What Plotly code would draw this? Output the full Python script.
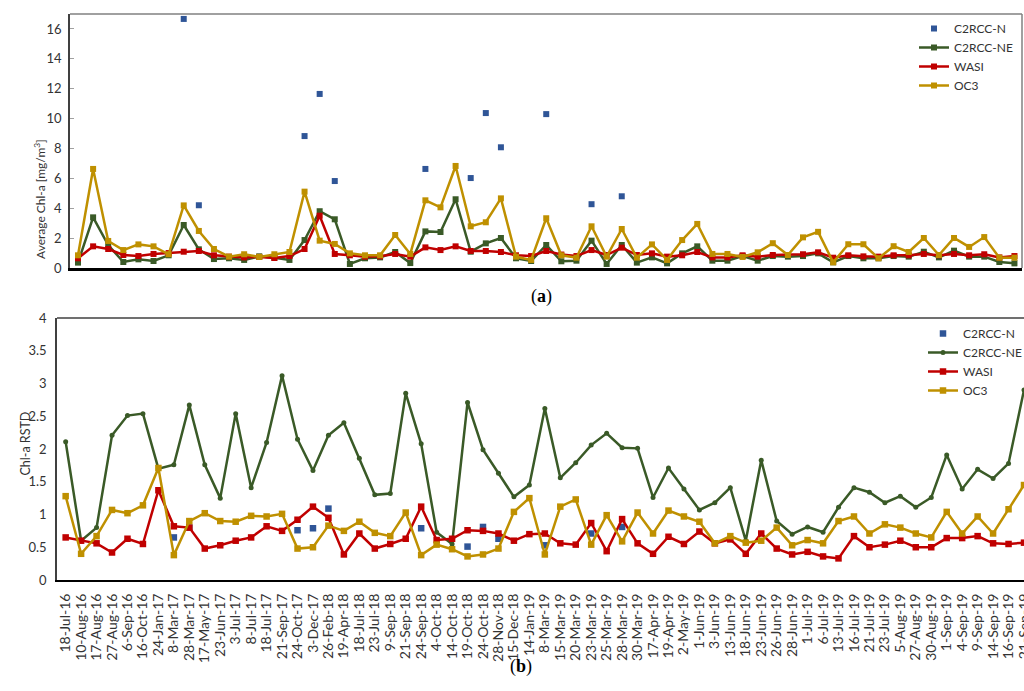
import plotly.graph_objects as go

# Acquisition dates shared by both panels
dates = [
    "18-Jul-16", "10-Aug-16", "17-Aug-16", "27-Aug-16", "6-Sep-16", "16-Oct-16",
    "24-Jan-17", "8-Mar-17", "28-Mar-17", "17-May-17", "23-Jun-17", "3-Jul-17",
    "8-Jul-17", "18-Jul-17", "21-Sep-17", "24-Oct-17", "3-Dec-17", "26-Feb-18",
    "19-Apr-18", "18-Jul-18", "23-Jul-18", "9-Sep-18", "21-Sep-18", "24-Sep-18",
    "4-Oct-18", "14-Oct-18", "19-Oct-18", "24-Oct-18", "28-Nov-18", "15-Dec-18",
    "14-Jan-19", "8-Mar-19", "15-Mar-19", "20-Mar-19", "23-Mar-19", "25-Mar-19",
    "28-Mar-19", "30-Mar-19", "17-Apr-19", "19-Apr-19", "2-May-19", "1-Jun-19",
    "3-Jun-19", "13-Jun-19", "18-Jun-19", "23-Jun-19", "26-Jun-19", "28-Jun-19",
    "1-Jul-19", "6-Jul-19", "13-Jul-19", "16-Jul-19", "21-Jul-19", "23-Jul-19",
    "5-Aug-19", "27-Aug-19", "30-Aug-19", "1-Sep-19", "4-Sep-19", "9-Sep-19",
    "14-Sep-19", "16-Sep-19", "21-Sep-19",
]

_ = None

# (a) Average Chl-a [mg/m3]
avg_c2rcc_n = [
    _, _, _, _, _, _, _, 16.67, 4.2, _,
    _, _, _, _, _, 8.83, 11.65, 5.82, _, _,
    _, _, _, 6.63, _, _, 6.02, 10.37, 8.08, _,
    _, 10.3, _, _, 4.27, _, 4.8, _, _, _,
    _, _, _, _, _, _, _, _, _, _,
    _, _, _, _, _, _, _, _, _, _,
    _, _, _,
]
avg_c2rcc_ne = [
    0.36, 3.39, 1.54, 0.40, 0.58, 0.47, 0.85, 2.88, 1.25, 0.60,
    0.65, 0.54, 0.78, 0.69, 0.54, 1.87, 3.80, 3.26, 0.27, 0.65,
    0.71, 1.07, 0.33, 2.45, 2.41, 4.60, 1.09, 1.65, 2.01, 0.65,
    0.47, 1.54, 0.45, 0.49, 1.83, 0.27, 1.54, 0.36, 0.71, 0.31,
    0.98, 1.45, 0.49, 0.49, 0.80, 0.49, 0.80, 0.76, 0.80, 0.98,
    0.38, 0.80, 0.65, 0.65, 0.80, 0.76, 1.09, 0.71, 1.16, 0.76,
    0.76, 0.40, 0.31,
]
avg_wasi = [
    0.65, 1.45, 1.27, 0.87, 0.80, 0.94, 1.00, 1.09, 1.14, 0.85,
    0.76, 0.71, 0.74, 0.67, 0.80, 1.27, 3.50, 0.94, 0.85, 0.76,
    0.78, 0.94, 0.76, 1.38, 1.20, 1.45, 1.14, 1.14, 1.07, 0.85,
    0.80, 1.14, 0.90, 0.80, 1.20, 0.87, 1.36, 0.87, 0.98, 0.76,
    0.85, 1.07, 0.71, 0.71, 0.85, 0.76, 0.87, 0.87, 0.92, 1.05,
    0.69, 0.85, 0.78, 0.76, 0.85, 0.85, 0.94, 0.85, 0.94, 0.85,
    0.92, 0.71, 0.80,
]
avg_oc3 = [
    0.85, 6.63, 1.81, 1.20, 1.58, 1.45, 0.92, 4.19, 2.48, 1.27,
    0.76, 0.92, 0.74, 0.92, 1.07, 5.11, 1.83, 1.61, 0.98, 0.85,
    0.85, 2.21, 0.94, 4.53, 4.06, 6.83, 2.79, 3.06, 4.66, 0.76,
    0.54, 3.33, 0.85, 0.69, 2.79, 0.76, 2.61, 0.69, 1.58, 0.54,
    1.87, 2.95, 0.94, 0.94, 0.74, 1.05, 1.66, 0.87, 2.05, 2.42,
    0.38, 1.59, 1.59, 0.65, 1.46, 1.07, 2.01, 0.87, 2.01, 1.41,
    2.07, 0.69, 0.69,
]

# (b) Chl-a relative standard deviation
rstd_c2rcc_n = [
    _, _, _, _, _, _, _, 0.65, 0.80, _,
    _, _, _, _, _, 0.76, 0.79, 1.09, _, _,
    _, _, _, 0.79, _, _, 0.51, 0.81, 0.63, _,
    _, 0.53, _, _, 0.71, _, 0.81, _, _, _,
    _, _, _, _, _, _, _, _, _, _,
    _, _, _, _, _, _, _, _, _, _,
    _, _, _,
]
rstd_c2rcc_ne = [
    2.11, 0.60, 0.80, 2.21, 2.51, 2.54, 1.70, 1.76, 2.67, 1.76,
    1.25, 2.54, 1.41, 2.10, 3.12, 2.15, 1.67, 2.21, 2.40, 1.86,
    1.30, 1.32, 2.85, 2.08, 0.73, 0.55, 2.71, 1.99, 1.63, 1.27,
    1.45, 2.62, 1.56, 1.79, 2.06, 2.24, 2.02, 2.01, 1.26, 1.71,
    1.39, 1.07, 1.18, 1.41, 0.60, 1.83, 0.90, 0.70, 0.81, 0.73,
    1.11, 1.41, 1.34, 1.18, 1.28, 1.11, 1.26, 1.91, 1.39, 1.69,
    1.55, 1.78, 2.90,
]
rstd_wasi = [
    0.65, 0.60, 0.56, 0.42, 0.63, 0.55, 1.37, 0.82, 0.80, 0.48,
    0.53, 0.60, 0.65, 0.82, 0.75, 0.92, 1.12, 0.95, 0.39, 0.71,
    0.48, 0.55, 0.63, 1.12, 0.61, 0.63, 0.76, 0.75, 0.71, 0.60,
    0.70, 0.71, 0.56, 0.54, 0.87, 0.44, 0.93, 0.56, 0.40, 0.66,
    0.55, 0.74, 0.56, 0.62, 0.40, 0.71, 0.48, 0.39, 0.43, 0.36,
    0.33, 0.67, 0.50, 0.54, 0.60, 0.50, 0.50, 0.64, 0.64, 0.67,
    0.56, 0.55, 0.57,
]
rstd_oc3 = [
    1.28, 0.40, 0.67, 1.07, 1.02, 1.14, 1.71, 0.38, 0.90, 1.02,
    0.90, 0.89, 0.98, 0.97, 1.01, 0.48, 0.50, 0.83, 0.75, 0.89,
    0.72, 0.67, 1.03, 0.38, 0.54, 0.47, 0.36, 0.39, 0.48, 1.04,
    1.25, 0.39, 1.12, 1.23, 0.54, 0.99, 0.59, 1.03, 0.71, 1.06,
    0.97, 0.89, 0.56, 0.67, 0.57, 0.60, 0.80, 0.53, 0.61, 0.56,
    0.90, 0.97, 0.71, 0.85, 0.80, 0.71, 0.65, 1.04, 0.71, 0.97,
    0.71, 1.08, 1.45,
]

BLUE = "#2F5597"
GREEN = "#3A5A27"
RED = "#C00000"
GOLD = "#BF9000"
TXT = "#333333"
FONT = "Lato"

W, H = 1024, 691


def px(x):
    return x / W


def py(y):
    return 1 - y / H


fig = go.Figure()

# ---- panel (a) ----
fig.add_trace(go.Scatter(
    x=dates, y=avg_c2rcc_n, name="C2RCC-N", mode="markers",
    marker=dict(symbol="square", size=6, color=BLUE),
    xaxis="x", yaxis="y", legend="legend"))
fig.add_trace(go.Scatter(
    x=dates, y=avg_c2rcc_ne, name="C2RCC-NE", mode="lines+markers",
    line=dict(color=GREEN, width=2.5),
    marker=dict(symbol="square", size=6, color=GREEN),
    xaxis="x", yaxis="y", legend="legend"))
fig.add_trace(go.Scatter(
    x=dates, y=avg_wasi, name="WASI", mode="lines+markers",
    line=dict(color=RED, width=2.5),
    marker=dict(symbol="square", size=6, color=RED),
    xaxis="x", yaxis="y", legend="legend"))
fig.add_trace(go.Scatter(
    x=dates, y=avg_oc3, name="OC3", mode="lines+markers",
    line=dict(color=GOLD, width=2.5),
    marker=dict(symbol="square", size=6, color=GOLD),
    xaxis="x", yaxis="y", legend="legend"))

# ---- panel (b) ----
fig.add_trace(go.Scatter(
    x=dates, y=rstd_c2rcc_n, name="C2RCC-N", mode="markers",
    marker=dict(symbol="square", size=6.5, color=BLUE),
    xaxis="x2", yaxis="y2", legend="legend2"))
fig.add_trace(go.Scatter(
    x=dates, y=rstd_c2rcc_ne, name="C2RCC-NE", mode="lines+markers",
    line=dict(color=GREEN, width=2.5),
    marker=dict(symbol="circle", size=5, color=GREEN),
    xaxis="x2", yaxis="y2", legend="legend2"))
fig.add_trace(go.Scatter(
    x=dates, y=rstd_wasi, name="WASI", mode="lines+markers",
    line=dict(color=RED, width=2.5),
    marker=dict(symbol="square", size=6.5, color=RED),
    xaxis="x2", yaxis="y2", legend="legend2"))
fig.add_trace(go.Scatter(
    x=dates, y=rstd_oc3, name="OC3", mode="lines+markers",
    line=dict(color=GOLD, width=2.5),
    marker=dict(symbol="square", size=6.5, color=GOLD),
    xaxis="x2", yaxis="y2", legend="legend2"))

tick_font = dict(family=FONT, size=13, color=TXT)

fig.update_layout(
    width=W, height=H,
    margin=dict(l=0, r=0, t=0, b=0, autoexpand=False),
    paper_bgcolor="white", plot_bgcolor="white",
    font=dict(family=FONT, size=13, color=TXT),
    xaxis=dict(
        domain=[px(70), px(1022)], anchor="y", automargin=False,
        type="category", categoryorder="array", categoryarray=dates,
        range=[-0.53, 62.5], showticklabels=False, ticks="",
        showline=True, linecolor="black", linewidth=2.5,
        showgrid=False, zeroline=False,
    ),
    yaxis=dict(
        domain=[py(268), py(14)], anchor="x", automargin=False,
        range=[0, 17], tickmode="array", tickvals=list(range(0, 17, 2)),
        tickfont=tick_font, ticks="inside", ticklen=4, tickcolor="#A0A0A0",
        ticklabelstandoff=4,
        showline=True, linecolor="#404040", linewidth=1.5,
        showgrid=False, zeroline=False,
    ),
    xaxis2=dict(
        domain=[px(57), 1.0], anchor="y2", automargin=False,
        type="category", categoryorder="array", categoryarray=dates,
        range=[-0.56, 62.0], tickangle=-90,
        tickmode="array", tickvals=dates, ticktext=dates,
        tickfont=dict(family=FONT, size=14, color=TXT),
        ticks="", ticklabelstandoff=6,
        showline=True, linecolor="black", linewidth=2,
        showgrid=False, zeroline=False,
    ),
    yaxis2=dict(
        domain=[py(580), py(318)], anchor="x2", automargin=False,
        range=[0, 4], tickmode="array",
        tickvals=[0, 0.5, 1, 1.5, 2, 2.5, 3, 3.5, 4],
        ticktext=["0", "0.5", "1", "1.5", "2", "2.5", "3", "3.5", "4"],
        tickfont=tick_font, ticks="", ticklabelstandoff=6,
        showline=True, linecolor="#404040", linewidth=1.5,
        showgrid=False, zeroline=False,
    ),
    legend=dict(
        x=px(914), y=py(14), xanchor="left", yanchor="top",
        bgcolor="rgba(0,0,0,0)", font=dict(family=FONT, size=12, color=TXT),
        itemwidth=30, tracegroupgap=0,
    ),
    legend2=dict(
        x=px(923), y=py(319), xanchor="left", yanchor="top",
        bgcolor="rgba(0,0,0,0)", font=dict(family=FONT, size=12, color=TXT),
        itemwidth=30, tracegroupgap=0,
    ),
    shapes=[
        # frame of panel (a): top and right edges
        dict(type="line", xref="x domain", yref="y domain",
             x0=0, x1=1, y0=1, y1=1, line=dict(color="#808080", width=1.5)),
        dict(type="line", xref="x domain", yref="y domain",
             x0=1, x1=1, y0=0, y1=1, line=dict(color="#808080", width=1.5)),
        # top edge of panel (b)
        dict(type="line", xref="x2 domain", yref="y2 domain",
             x0=0, x1=1, y0=1, y1=1, line=dict(color="#404040", width=1.5)),
    ],
    annotations=[
        dict(text="Average Chl-a [mg/m<sup>3</sup>]", textangle=-90,
             xref="paper", yref="paper", x=px(30), y=py(137),
             showarrow=False, font=dict(family=FONT, size=12, color=TXT)),
        dict(text="Chl-a RSTD", textangle=-90,
             xref="paper", yref="paper", x=px(15), y=py(444),
             showarrow=False, font=dict(family=FONT, size=12.5, color=TXT)),
        dict(text="(<b>a</b>)", xref="paper", yref="paper",
             x=px(541), y=py(296), showarrow=False,
             font=dict(family="Liberation Serif", size=18, color="black")),
        dict(text="(<b>b</b>)", xref="paper", yref="paper",
             x=px(521), y=py(679), showarrow=False,
             font=dict(family="Liberation Serif", size=18, color="black")),
    ],
)

fig.write_html("out.html")
